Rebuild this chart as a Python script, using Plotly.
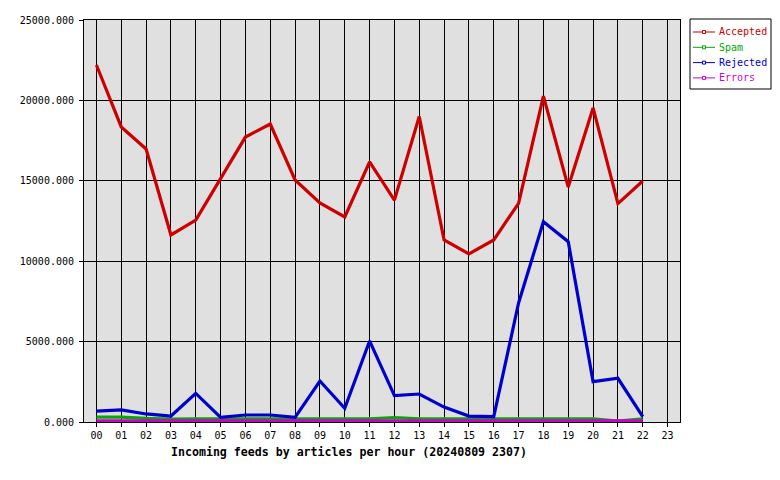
import plotly.graph_objects as go

hours = [f"{h:02d}" for h in range(24)]
hour_idx = list(range(23))

accepted = [22200, 18350, 16980, 11630, 12560, 15150, 17720, 18530, 15050, 13620,
            12750, 16170, 13800, 19000, 11320, 10450, 11320, 13600, 20270, 14610,
            19530, 13580, 14990]
spam = [300, 300, 220, 180, 190, 190, 190, 190, 190, 190,
        190, 190, 280, 190, 190, 190, 190, 190, 190, 190,
        190, 60, 190]
rejected = [680, 750, 500, 370, 1780, 290, 435, 435, 290, 2550,
            850, 5040, 1640, 1740, 930, 370, 330, 7400, 12460, 11210,
            2510, 2720, 330]
errors = [70, 70, 70, 70, 70, 70, 70, 70, 70, 70,
          70, 70, 70, 70, 70, 70, 70, 70, 70, 70,
          70, 70, 70]

series_names = ["Accepted", "Spam", "Rejected", "Errors"]
series_values = [accepted, spam, rejected, errors]
colors = ["#cc0000", "#00aa00", "#0000cc", "#cc00cc"]

y_ticks = [0, 5000, 10000, 15000, 20000, 25000]
y_labels = [f"{v:.3f}" for v in y_ticks]

W, H = 780, 480
L, R, T, B = 84, 680, 20, 422
PW, PH = R - L, B - T

MONO = "DejaVu Sans Mono"

fig = go.Figure()
for name, vals, c in zip(series_names, series_values, colors):
    fig.add_trace(go.Scatter(x=hour_idx, y=vals, mode="lines", name=name,
                             line=dict(color=c, width=3.2), showlegend=False))

def px(x):
    return (x - L) / PW

def py(y):
    return (B - y) / PH

shapes = [dict(type="rect", xref="paper", yref="paper",
               x0=px(690), x1=px(771), y0=py(19), y1=py(89),
               line=dict(color="black", width=1), fillcolor="white")]
annotations = []
for i, (name, c) in enumerate(zip(series_names, colors)):
    yy = 32 + i * 15.3
    shapes.append(dict(type="line", xref="paper", yref="paper",
                       x0=px(693), x1=px(715), y0=py(yy), y1=py(yy),
                       line=dict(color=c, width=1)))
    shapes.append(dict(type="rect", xref="paper", yref="paper",
                       x0=px(702.5), x1=px(705.5), y0=py(yy - 1.5), y1=py(yy + 1.5),
                       line=dict(color=c, width=1), fillcolor="white"))
    annotations.append(dict(xref="paper", yref="paper", x=px(717), y=py(yy),
                            xanchor="left", yanchor="middle", showarrow=False,
                            text=name, font=dict(family=MONO, size=10, color=c)))

annotations.append(dict(xref="paper", yref="paper", x=px(348.5), y=py(452),
                        xanchor="center", yanchor="middle", showarrow=False,
                        text="<b>Incoming feeds by articles per hour (20240809 2307)</b>",
                        font=dict(family=MONO, size=11.6, color="black")))

fig.update_layout(
    width=W, height=H,
    margin=dict(l=L, r=W - R, t=T, b=H - B, pad=0),
    paper_bgcolor="white", plot_bgcolor="#e0e0e0",
    font=dict(family=MONO, size=10, color="black"),
    shapes=shapes, annotations=annotations,
    showlegend=False,
)
fig.update_xaxes(range=[-0.5, 23.5], tickmode="array", tickvals=list(range(24)),
                 ticktext=hours, showgrid=True, gridcolor="black", gridwidth=1,
                 showline=True, linecolor="black", linewidth=1, mirror=True,
                 ticks="outside", ticklen=4, tickcolor="black", zeroline=False,
                 tickfont=dict(family=MONO, size=10))
fig.update_yaxes(range=[0, 25000], tickmode="array", tickvals=y_ticks,
                 ticktext=y_labels, showgrid=True, gridcolor="black", gridwidth=1,
                 showline=True, linecolor="black", linewidth=1, mirror=True,
                 ticks="outside", ticklen=4, tickcolor="black", zeroline=False,
                 ticklabelstandoff=3,
                 tickfont=dict(family=MONO, size=10))

fig.write_html("out.html")
